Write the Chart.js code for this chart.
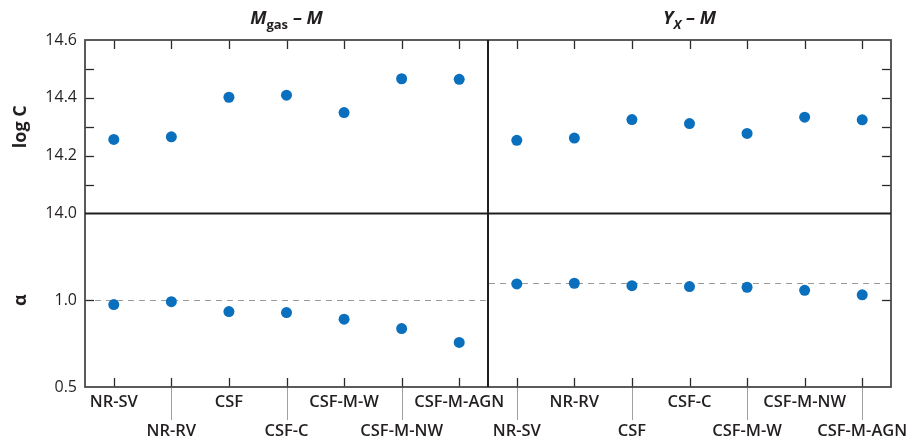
<!DOCTYPE html>
<html>
<head>
<meta charset="utf-8">
<script src="https://cdn.jsdelivr.net/npm/chart.js@4.4.1/dist/chart.umd.min.js"></script>
<style>
  html, body { margin: 0; padding: 0; background: #fff; }
  #wrap { position: relative; width: 909px; height: 441px; }
  #chart { position: absolute; left: 0; top: 0; }
  .panel-title {
    position: absolute; top: 5px; width: 403px; text-align: center;
    font-family: "Open Sans", sans-serif; font-weight: 700; font-style: italic;
    font-size: 18.5px; color: #231f20; line-height: 24px;
  }
  .panel-title sub { font-size: 13px; vertical-align: -5px; line-height: 0; }
  .panel-title sub.up { font-style: normal; }
</style>
</head>
<body>
<div id="wrap">
  <canvas id="chart" width="909" height="441"></canvas>
  <div class="panel-title" style="left:85px">M<sub class="up">gas</sub> – M</div>
  <div class="panel-title" style="left:488px">Y<sub>X</sub> – M</div>
</div>
<script>
const models = ['NR-SV', 'NR-RV', 'CSF', 'CSF-C', 'CSF-M-W', 'CSF-M-NW', 'CSF-M-AGN'];

// normalisation (log C) for each simulation set
const logCMgas = [14.256, 14.265, 14.402, 14.409, 14.349, 14.466, 14.464];
const logCYx = [14.253, 14.261, 14.325, 14.311, 14.277, 14.333, 14.324];

// slope (alpha) for each simulation set
const alphaMgas = [0.975, 0.992, 0.935, 0.929, 0.891, 0.837, 0.757];
const alphaYx = [1.094, 1.098, 1.084, 1.079, 1.075, 1.057, 1.031];

// self-similar slopes shown as dashed lines
const selfSimilar = [1.0, 1.1];

const logCMinor = [14.1, 14.2, 14.3, 14.4, 14.5];
const alphaMinor = [1.0];

const dotColor = '#0a6fbd';
const ink = '#231f20';
const fontFamily = '"Open Sans", sans-serif';

function labelRows(lowerOdd) {
    return (value, i) => (i % 2 === 1) === lowerOdd ? ['', models[i]] : models[i];
}

function xScale(weight, lowerOdd) {
    return {
        type: 'category',
        position: 'bottom',
        stack: 'cols',
        stackWeight: 1,
        weight: weight,
        offset: true,
        grid: { display: false, drawTicks: false },
        border: { display: false },
        ticks: {
            autoSkip: false, minRotation: 0, maxRotation: 0, padding: 1,
            color: ink,
            font: { family: fontFamily, size: 16.5, weight: 600, lineHeight: '29px' },
            callback: labelRows(lowerOdd)
        },
        afterFit: s => { s.height = 54; s.paddingLeft = 0; s.paddingRight = 0; }
    };
}

function yScale(weight, min, max, step, title, hideTop) {
    return {
        type: 'linear',
        position: 'left',
        stack: 'rows',
        stackWeight: 1,
        weight: weight,
        min: min,
        max: max,
        grid: { display: false, drawTicks: false },
        border: { display: false },
        ticks: {
            stepSize: step, padding: 8, color: ink,
            font: { family: fontFamily, size: 16 },
            callback: v => (hideTop && Math.abs(v - max) < 1e-6) ? '' : v.toFixed(1)
        },
        title: {
            display: true, text: title, color: ink,
            font: { family: fontFamily, size: 18, weight: 'bold' },
            padding: { top: 10, bottom: 0 }
        },
        afterFit: s => { s.width = 85; s.paddingTop = 0; s.paddingBottom = 0; }
    };
}

function line(ctx, x1, y1, x2, y2) {
    ctx.beginPath();
    ctx.moveTo(x1, y1);
    ctx.lineTo(x2, y2);
    ctx.stroke();
}

// dashed reference lines under the points
const refLines = {
    id: 'refLines',
    beforeDatasetsDraw(chart) {
        const { ctx } = chart;
        const y = chart.scales.yBot;
        const xs = [chart.scales.xL, chart.scales.xR];
        ctx.save();
        ctx.strokeStyle = '#9a9a9a';
        ctx.lineWidth = 1.2;
        ctx.setLineDash([6, 5]);
        xs.forEach((x, i) => {
            const py = Math.round(y.getPixelForValue(selfSimilar[i])) + 0.5;
            line(ctx, x.left + (i === 0 ? 10 : 1), py, x.right - 1, py);
        });
        ctx.restore();
    }
};

// panel frames, inward tick marks and label leader lines
const frames = {
    id: 'frames',
    afterDatasetsDraw(chart) {
        const { ctx, chartArea: a } = chart;
        const { xL, xR, yTop, yBot } = chart.scales;
        ctx.save();
        const tick = 9;

        ctx.strokeStyle = '#2b2b2b';
        ctx.lineWidth = 1.3;
        [xL, xR].forEach(x => {
            x.ticks.forEach((t, i) => {
                const px = Math.round(x.getPixelForTick(i)) + 0.5;
                line(ctx, px, a.top, px, a.top + tick);
                line(ctx, px, a.bottom, px, a.bottom - tick);
            });
        });
        logCMinor.forEach(v => {
            const py = Math.round(yTop.getPixelForValue(v)) + 0.5;
            line(ctx, a.left, py, a.left + tick, py);
            line(ctx, a.right, py, a.right - tick, py);
        });
        alphaMinor.forEach(v => {
            const py = Math.round(yBot.getPixelForValue(v)) + 0.5;
            line(ctx, a.left, py, a.left + tick, py);
            line(ctx, a.right, py, a.right - tick, py);
        });

        // leader lines for the lower row of labels
        ctx.strokeStyle = '#a0a0a0';
        ctx.lineWidth = 1;
        [[xL, 1], [xR, 0]].forEach(([x, odd]) => {
            x.ticks.forEach((t, i) => {
                if (i % 2 !== odd) return;
                const px = Math.round(x.getPixelForTick(i)) + 0.5;
                line(ctx, px, a.bottom, px, a.bottom + 33);
            });
        });

        // outer frame
        ctx.strokeStyle = '#4a4a4a';
        ctx.lineWidth = 1.8;
        ctx.strokeRect(a.left, a.top, a.right - a.left, a.bottom - a.top);

        // panel dividers
        ctx.strokeStyle = '#1e1e1e';
        ctx.lineWidth = 2;
        line(ctx, a.left, yTop.bottom, a.right, yTop.bottom);
        line(ctx, xL.right, a.top, xL.right, a.bottom);
        ctx.restore();
    }
};

function series(data, xId, yId) {
    return { data: data, xAxisID: xId, yAxisID: yId, showLine: false };
}

new Chart(document.getElementById('chart'), {
    type: 'line',
    data: {
        labels: models,
        datasets: [
            series(logCMgas, 'xL', 'yTop'),
            series(logCYx, 'xR', 'yTop'),
            series(alphaMgas, 'xL', 'yBot'),
            series(alphaYx, 'xR', 'yBot')
        ]
    },
    options: {
        responsive: false,
        animation: false,
        devicePixelRatio: 1,
        layout: { padding: { top: 40, right: 18, left: 0, bottom: 0 } },
        elements: {
            point: { radius: 5.5, backgroundColor: dotColor, borderWidth: 0, hoverRadius: 5.5 }
        },
        plugins: { legend: { display: false }, tooltip: { enabled: false } },
        scales: {
            xL: xScale(0, true),
            xR: xScale(1, false),
            yTop: yScale(1, 14.0, 14.6, 0.2, 'log C', false),
            yBot: yScale(0, 0.5, 1.5, 0.5, 'α', true)
        }
    },
    plugins: [refLines, frames]
});
</script>
</body>
</html>
